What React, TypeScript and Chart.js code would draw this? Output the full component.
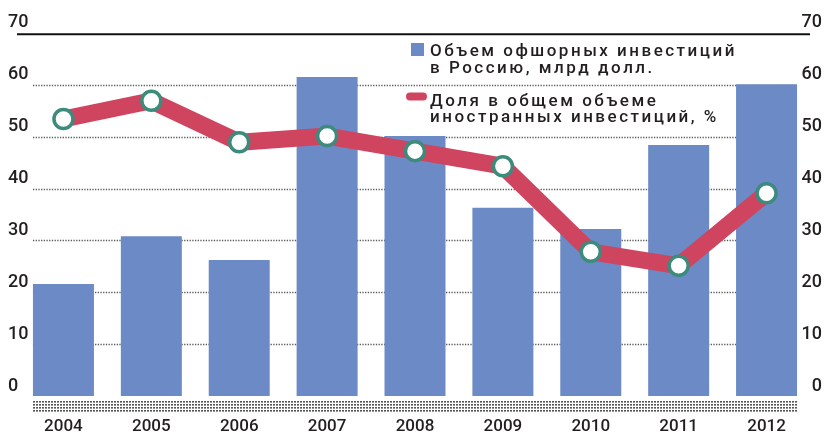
import React, { useEffect, useRef } from "react";
import { Chart, registerables } from "chart.js";

Chart.register(...registerables);

const years = ["2004", "2005", "2006", "2007", "2008", "2009", "2010", "2011", "2012"];
const offshoreInvest = [21.6, 30.8, 26.2, 61.5, 50.1, 36.3, 32.2, 48.4, 60.1];
const shareOfForeign = [53.4, 56.9, 48.9, 50.1, 47.2, 44.3, 27.8, 25.1, 39.1];
const yTicks = [0, 10, 20, 30, 40, 50, 60, 70];
const legendBars = ["Объем офшорных инвестиций", "в Россию, млрд долл."];
const legendLine = ["Доля в общем объеме", "иностранных инвестиций, %"];

const BAR_COLOR = "#6B8AC6";
const LINE_COLOR = "#CF4560";
const MARKER_COLOR = "#3C8B7D";
const TEXT_COLOR = "#231F20";

function spacedText(ctx: CanvasRenderingContext2D, text: string, x: number, y: number, spacing: number) {
  let cx = x;
  for (const ch of text) {
    ctx.fillText(ch, cx, y);
    cx += ctx.measureText(ch).width + spacing;
  }
}

const decorPlugin = {
  id: "decor",
  beforeDatasetsDraw(chart: any) {
    const ctx = chart.ctx as CanvasRenderingContext2D;
    const y = chart.scales.y;
    const meta = chart.getDatasetMeta(1);
    const first = meta.data[0];
    const last = meta.data[meta.data.length - 1];
    const left = first.x - first.width / 2;
    const right = last.x + last.width / 2;
    ctx.save();
    // dotted gridlines
    ctx.strokeStyle = "#5a5a5a";
    ctx.lineWidth = 1.4;
    ctx.setLineDash([1.3, 1.4]);
    for (const v of yTicks) {
      if (v === 0 || v === 70) continue;
      const py = Math.round(y.getPixelForValue(v)) + 0.5;
      ctx.beginPath();
      ctx.moveTo(left, py);
      ctx.lineTo(right, py);
      ctx.stroke();
    }
    ctx.setLineDash([]);
    // solid top line
    ctx.strokeStyle = "#111";
    ctx.lineWidth = 2;
    const ty = y.getPixelForValue(70) + 1.5;
    ctx.beginPath();
    ctx.moveTo(17, ty);
    ctx.lineTo(810, ty);
    ctx.stroke();
    // hatched band under the bars
    ctx.fillStyle = "#555";
    const by = y.getPixelForValue(0) + 5;
    for (let r = 0; r < 4; r++) {
      for (let x = left; x < right - 1; x += 3) {
        ctx.fillRect(Math.round(x), Math.round(by + r * 3), 2, 1.6);
      }
    }
    ctx.restore();
  },
  afterDatasetsDraw(chart: any) {
    const ctx = chart.ctx as CanvasRenderingContext2D;
    const y = chart.scales.y;
    const x = chart.scales.x;
    ctx.save();
    ctx.fillStyle = TEXT_COLOR;
    ctx.font = "500 18px Roboto";
    ctx.textBaseline = "middle";
    for (const v of yTicks) {
      const py = y.getPixelForValue(v) - 10;
      ctx.textAlign = "left";
      ctx.fillText(String(v), 8, py);
      ctx.textAlign = "right";
      ctx.fillText(String(v), 822, py);
    }
    ctx.font = "500 17px Roboto";
    ctx.textAlign = "center";
    years.forEach((yr, i) => {
      ctx.fillText(yr, x.getPixelForValue(i), 427);
    });
    // legend
    ctx.fillStyle = BAR_COLOR;
    ctx.fillRect(411, 43, 13, 13);
    ctx.fillStyle = LINE_COLOR;
    ctx.beginPath();
    ctx.roundRect(406, 92.5, 21, 8, 4);
    ctx.fill();
    ctx.fillStyle = TEXT_COLOR;
    ctx.font = "500 17px Roboto";
    ctx.textAlign = "left";
    ctx.textBaseline = "alphabetic";
    spacedText(ctx, legendBars[0], 430, 56, 2.5);
    spacedText(ctx, legendBars[1], 430, 73, 2.5);
    spacedText(ctx, legendLine[0], 430, 106, 2.5);
    spacedText(ctx, legendLine[1], 430, 122, 2.5);
    ctx.restore();
  },
};

export default function App() {
  const ref = useRef<HTMLCanvasElement | null>(null);
  useEffect(() => {
    if (!ref.current) return;
    const chart = new Chart(ref.current, {
      type: "bar",
      data: {
        labels: years,
        datasets: [
          {
            type: "line",
            label: "Доля в общем объеме иностранных инвестиций, %",
            data: shareOfForeign,
            borderColor: LINE_COLOR,
            borderWidth: 17,
            borderJoinStyle: "miter",
            borderCapStyle: "butt",
            pointRadius: 9.5,
            pointBorderWidth: 3.5,
            pointBorderColor: MARKER_COLOR,
            pointBackgroundColor: "#ffffff",
            tension: 0,
            order: 0,
          } as any,
          {
            type: "bar",
            label: "Объем офшорных инвестиций в Россию, млрд долл.",
            data: offshoreInvest,
            backgroundColor: BAR_COLOR,
            borderWidth: 0,
            categoryPercentage: 1,
            barPercentage: 0.694,
            base: -0.6,
            order: 1,
          } as any,
        ],
      },
      options: {
        responsive: false,
        animation: false,
        layout: { padding: { left: 19.5, right: 14.5, top: 32.8, bottom: 38.9 } },
        plugins: { legend: { display: false }, tooltip: { enabled: false } },
        scales: {
          x: { display: false, offset: true },
          y: { display: false, min: 0, max: 70 },
        },
      },
      plugins: [decorPlugin],
    });
    return () => chart.destroy();
  }, []);
  return (
    <div style={{ position: "absolute", left: 0, top: 0, width: 825, height: 435, background: "#fff" }}>
      <canvas ref={ref} width={825} height={435} style={{ width: 825, height: 435 }} />
    </div>
  );
}
